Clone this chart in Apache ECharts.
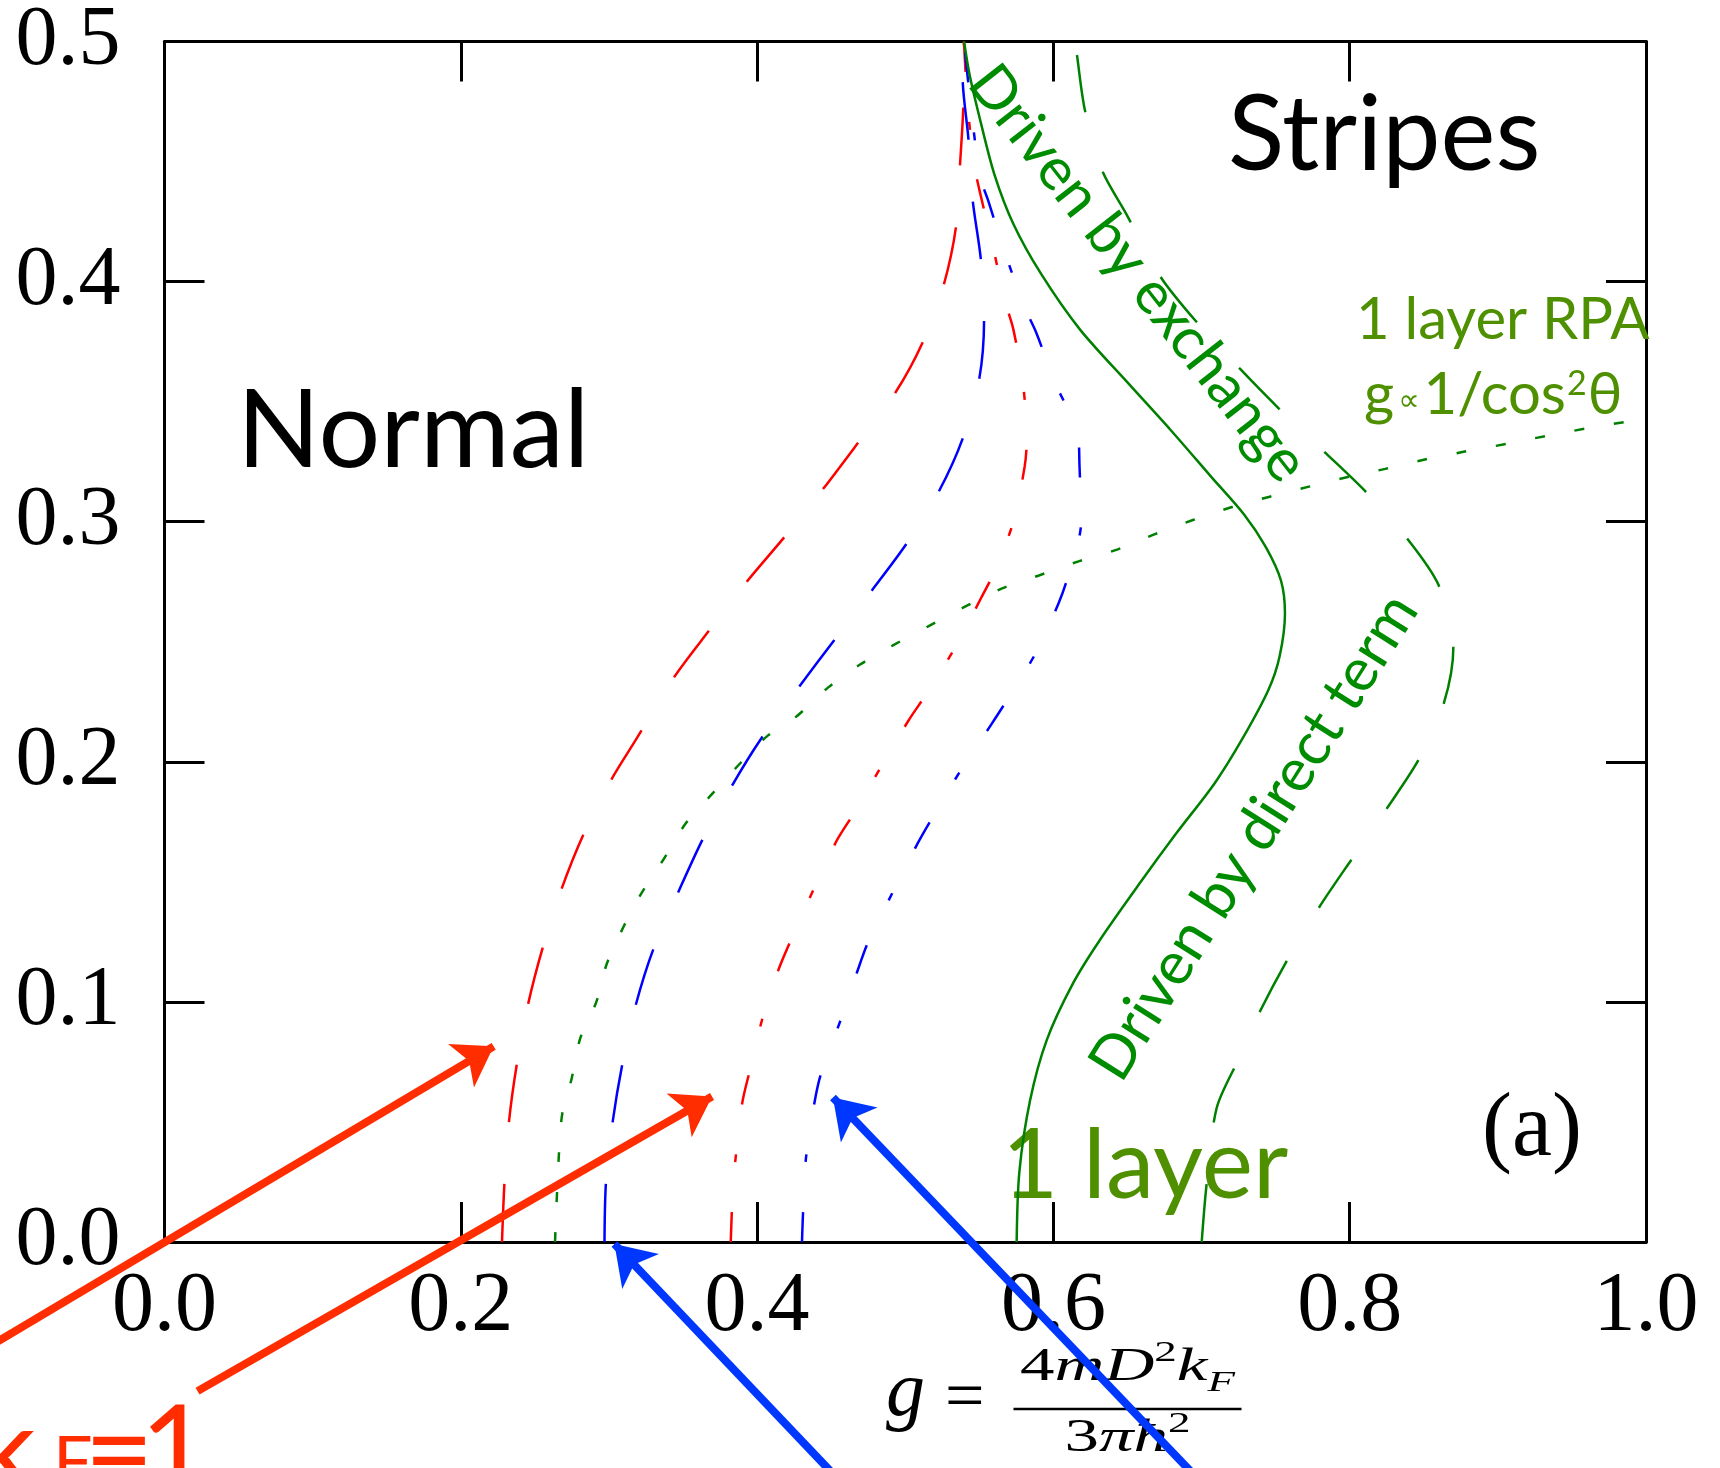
<!DOCTYPE html>
<html>
<head>
<meta charset="utf-8">
<script src="https://cdn.jsdelivr.net/npm/echarts@6/dist/echarts.min.js"></script>
<style>
html,body{margin:0;padding:0;background:#fff;}
#chart{width:1720px;height:1468px;}
</style>
</head>
<body>
<div id="chart"></div>
<script>
// ---------- data ----------
const xTickValues = [0, 0.2, 0.4, 0.6, 0.8, 1.0];
const yTickValues = [0, 0.1, 0.2, 0.3, 0.4, 0.5];

// red, long dashes
const redDash = [[0.2278,0],[0.2295,0.025],[0.2325,0.05],[0.2378,0.074],[0.2454,0.099],[0.2555,0.123],[0.268,0.147],[0.283,0.170],[0.302,0.193],[0.318,0.209],[0.3437,0.235],[0.368,0.255],[0.393,0.275],[0.419,0.294],[0.445,0.314],[0.4695,0.334],[0.4936,0.354],[0.512,0.375],[0.5257,0.398],[0.5343,0.423],[0.537,0.449],[0.5392,0.473],[0.5396,0.5]];
// red, dash-dot
const redDashDot = [[0.3822,0],[0.3835,0.02],[0.3855,0.035],[0.390,0.058],[0.3945,0.07],[0.404,0.094],[0.4148,0.114],[0.423,0.126],[0.439,0.148],[0.4536,0.167],[0.4647,0.178],[0.502,0.217],[0.514,0.228],[0.534,0.248],[0.551,0.268],[0.560,0.279],[0.573,0.300],[0.5806,0.323],[0.582,0.334],[0.5795,0.3575],[0.573,0.380],[0.5673,0.392],[0.5592,0.4145],[0.5506,0.4367],[0.5466,0.4486],[0.5424,0.4715],[0.5396,0.5]];
// blue, long dashes
const blueDash = [[0.297,0],[0.298,0.025],[0.3025,0.05],[0.309,0.074],[0.318,0.0985],[0.330,0.122],[0.347,0.146],[0.3635,0.168],[0.383,0.19],[0.402,0.209],[0.428,0.231],[0.4525,0.251],[0.477,0.271],[0.501,0.291],[0.523,0.313],[0.539,0.335],[0.55,0.3597],[0.5532,0.384],[0.551,0.4093],[0.5455,0.434],[0.5426,0.4597],[0.5388,0.4833],[0.5385,0.5]];
// blue, dash-dot
const blueDashDot = [[0.4303,0],[0.431,0.012],[0.433,0.035],[0.4388,0.0583],[0.4431,0.07],[0.4573,0.094],[0.4695,0.116],[0.475,0.125],[0.4918,0.146],[0.508,0.1656],[0.5176,0.176],[0.538,0.197],[0.558,0.2155],[0.5694,0.2264],[0.5887,0.246],[0.6035,0.266],[0.610,0.2775],[0.6187,0.300],[0.6176,0.3236],[0.6165,0.336],[0.6007,0.3585],[0.5883,0.3789],[0.5802,0.3898],[0.5665,0.4135],[0.556,0.4337],[0.55,0.445],[0.5396,0.5]];
// green, dotted (1 layer RPA)
const greenDot = [[0.2636,0],[0.266,0.034],[0.2685,0.0535],[0.2748,0.068],[0.2807,0.085],[0.2915,0.1],[0.2986,0.116],[0.3096,0.131],[0.3217,0.145],[0.337,0.1595],[0.352,0.1745],[0.3695,0.1865],[0.3888,0.1995],[0.4074,0.211],[0.4258,0.2185],[0.448,0.231],[0.4695,0.2405],[0.4917,0.2485],[0.5158,0.2565],[0.54,0.2645],[0.5654,0.2722],[0.5902,0.2776],[0.617,0.2835],[0.6435,0.2885],[0.6685,0.2948],[0.6942,0.3007],[0.72,0.306],[0.746,0.3104],[0.7725,0.3146],[0.798,0.3185],[0.824,0.322],[0.85,0.3258],[0.876,0.329],[0.9065,0.3325],[0.9325,0.3357],[0.9595,0.3388],[0.9855,0.3415],[1.0,0.343]];
// green, solid (1 layer)
const greenSolid = [[0.5752,0],[0.577,0.029],[0.5842,0.0588],[0.5955,0.0841],[0.6134,0.1079],[0.6314,0.1258],[0.6585,0.1496],[0.6832,0.1704],[0.709,0.1912],[0.7275,0.2095],[0.7451,0.2299],[0.7527,0.244],[0.7563,0.2618],[0.7536,0.2755],[0.7435,0.2893],[0.7287,0.303],[0.7064,0.3188],[0.6794,0.338],[0.650,0.358],[0.618,0.380],[0.5916,0.4033],[0.573,0.424],[0.5602,0.4446],[0.551,0.4662],[0.5435,0.4859],[0.5397,0.5]];
// green, long dashes
const greenDash = [[0.7001,0],[0.7035,0.0246],[0.7102,0.0558],[0.7237,0.0746],[0.7394,0.096],[0.7586,0.1183],[0.78,0.14],[0.802,0.16],[0.825,0.1805],[0.847,0.2014],[0.8636,0.2245],[0.870,0.248],[0.860,0.2736],[0.838,0.2936],[0.81,0.313],[0.782,0.3296],[0.7542,0.3459],[0.7262,0.3635],[0.6976,0.3825],[0.6722,0.4021],[0.6486,0.4288],[0.6328,0.4464],[0.6213,0.4713],[0.6157,0.4953],[0.6145,0.5]];

// annotation arrows (tail, tip) in data units
const redArrows = [[[-0.15,-0.0552],[0.2222,0.0815]], [[0.0223,-0.0621],[0.3696,0.0606]]];
const blueArrows = [[[0.4809,-0.1158],[0.3037,-0.0008]], [[0.7241,-0.1158],[0.4512,0.0602]]];

// ---------- chart ----------
const chart = echarts.init(document.getElementById('chart'), null, {renderer: 'canvas'});

const GREEN = '#008000';
const TXTGREEN = '#008c00';
const OLIVE = '#4e9000';
const ARROW_RED = '#ff2d00';
const ARROW_BLUE = '#0037ff';

const LONG = [58, 62];
const DASHDOT = [30, 50, 8, 50];
const DOT = [10, 30];

function curve(name, data, color, type) {
  return {
    type: 'line', name: name, data: data, xAxisIndex: 0, yAxisIndex: 0,
    showSymbol: false, symbol: 'none', smooth: 0.3, silent: true, z: 3,
    lineStyle: {color: color, width: 2.5, type: type, cap: 'butt'}
  };
}
function arrows(name, list, color) {
  return {
    type: 'lines', name: name, coordinateSystem: 'cartesian2d', xAxisIndex: 0, yAxisIndex: 0,
    clip: false, silent: true, z: 10, zlevel: 0,
    symbol: ['none', 'arrow'], symbolSize: [0, 38],
    lineStyle: {color: color, width: 8, opacity: 1, curveness: 0},
    data: list.map(c => ({coords: c}))
  };
}

const fmt = v => Number(v).toFixed(1);
function axisCommon(labelShow, margin) {
  return {
    axisLine: {show: true, onZero: false, lineStyle: {color: '#000', width: 3}},
    axisTick: {show: true, inside: true, length: 40, lineStyle: {color: '#000', width: 3}},
    minorTick: {show: false},
    splitLine: {show: false},
    axisLabel: {show: labelShow, margin: margin, color: '#000', fontFamily: 'Liberation Serif',
      fontSize: 84, formatter: fmt, showMinLabel: true, showMaxLabel: true}
  };
}

function txt(x, y, text, size, color, family, extra) {
  const el = {
    type: 'text', x: x, y: y, z: 1, silent: true,
    style: Object.assign({
      text: text, fontSize: size, fontFamily: family || 'Lato', fill: color,
      align: 'left', verticalAlign: 'middle', textAlign: 'left', textVerticalAlign: 'middle'
    }, extra || {})
  };
  return el;
}

const serif = 'Liberation Serif';
const graphics = [
  txt(237, 432, 'Normal', 109, '#000'),
  txt(1228, 136, 'Stripes', 104, '#000'),
  txt(1356, 320, '1 layer RPA', 58, OLIVE),
  {
    type: 'text', x: 1364, y: 395, z: 1, silent: true,
    style: {
      text: '{m|g}{p|∝}{m|1/cos}{s|2}{m|θ}', fill: OLIVE, align: 'left', verticalAlign: 'middle',
      textAlign: 'left', textVerticalAlign: 'middle',
      rich: {
        m: {fontSize: 58, fontFamily: 'Lato', fill: OLIVE, lineHeight: 64},
        p: {fontSize: 30, fontFamily: 'DejaVu Sans', fill: OLIVE, lineHeight: 64, padding: [14, 4, 0, 4]},
        s: {fontSize: 34, fontFamily: 'Lato', fill: OLIVE, lineHeight: 34, verticalAlign: 'top', padding: [4, 1, 0, 1]}
      }
    }
  },
  txt(1002, 1167, '1 layer', 97, OLIVE),
  txt(1482, 1131, '(a)', 90, '#000', serif),
  {
    type: 'text', x: 1138, y: 273.5, rotation: -0.9076, z: 1, silent: true,
    style: {text: 'Driven by exchange', fontSize: 59, fontFamily: 'Lato', fill: TXTGREEN,
      align: 'center', verticalAlign: 'middle', textAlign: 'center', textVerticalAlign: 'middle'}
  },
  {
    type: 'text', x: 1254, y: 837, rotation: 1.0088, z: 1, silent: true,
    style: {text: 'Driven by direct term', fontSize: 60, fontFamily: 'Lato', fill: TXTGREEN,
      align: 'center', verticalAlign: 'middle', textAlign: 'center', textVerticalAlign: 'middle'}
  },
  // k_F = 1 (red, cut by the lower edge)
  txt(36, 1452, 'k', 120, ARROW_RED, 'Lato', {align: 'right', textAlign: 'right'}),
  txt(53, 1463, 'F', 70, ARROW_RED, 'Lato'),
  txt(119, 1452, '=', 120, ARROW_RED, 'Lato', {align: 'center', textAlign: 'center'}),
  txt(175, 1452, '1', 120, ARROW_RED, 'Lato', {align: 'center', textAlign: 'center'}),
  // formula g = 4mD^2k_F / 3 pi hbar^2
  txt(886, 1394, 'g', 78, '#000', serif, {fontStyle: 'italic'}),
  txt(945, 1401, '=', 70, '#000', serif),
  {
    type: 'group', x: 1127.5, y: 1409, scaleX: 1.5, z: 1, silent: true,
    children: [
      {type: 'line', shape: {x1: -76, y1: 0, x2: 76, y2: 0}, style: {stroke: '#000', lineWidth: 2.5}, z: 1},
      {
        type: 'text', x: 0, y: -41, z: 1,
        style: {
          text: '{n|4}{i|mD}{s|2}{i|k}{b|F}', align: 'center', verticalAlign: 'middle',
          textAlign: 'center', textVerticalAlign: 'middle', fill: '#000',
          rich: {
            n: {fontSize: 46, fontFamily: serif, lineHeight: 60, fill: '#000'},
            i: {fontSize: 46, fontFamily: serif, fontStyle: 'italic', lineHeight: 60, fill: '#000'},
            s: {fontSize: 30, fontFamily: serif, lineHeight: 30, verticalAlign: 'top', fill: '#000'},
            b: {fontSize: 30, fontFamily: serif, fontStyle: 'italic', lineHeight: 30, verticalAlign: 'bottom', fill: '#000'}
          }
        }
      },
      {
        type: 'text', x: 0, y: 30, z: 1,
        style: {
          text: '{n|3}{i|πħ}{s|2}', align: 'center', verticalAlign: 'middle',
          textAlign: 'center', textVerticalAlign: 'middle', fill: '#000',
          rich: {
            n: {fontSize: 46, fontFamily: serif, lineHeight: 60, fill: '#000'},
            i: {fontSize: 46, fontFamily: serif, fontStyle: 'italic', lineHeight: 60, fill: '#000'},
            s: {fontSize: 30, fontFamily: serif, lineHeight: 30, verticalAlign: 'top', fill: '#000'}
          }
        }
      }
    ]
  }
];

const option = {
  animation: false,
  backgroundColor: '#fff',
  grid: {left: 164.5, top: 41.5, width: 1481.5, height: 1200.5, containLabel: false, outerBoundsMode: 'none'},
  xAxis: [
    Object.assign({type: 'value', min: 0, max: 1, interval: 0.2, position: 'bottom'}, axisCommon(true, 24)),
    Object.assign({type: 'value', min: 0, max: 1, interval: 0.2, position: 'top'}, axisCommon(false, 24))
  ],
  yAxis: [
    Object.assign({type: 'value', min: 0, max: 0.5, interval: 0.1, position: 'left'}, axisCommon(true, 44)),
    Object.assign({type: 'value', min: 0, max: 0.5, interval: 0.1, position: 'right'}, axisCommon(false, 44))
  ],
  graphic: graphics,
  series: [
    curve('red long dash', redDash, '#ff0000', LONG),
    curve('red dash-dot', redDashDot, '#ff0000', DASHDOT),
    curve('blue long dash', blueDash, '#0000ff', LONG),
    curve('blue dash-dot', blueDashDot, '#0000ff', DASHDOT),
    curve('1 layer RPA', greenDot, GREEN, DOT),
    curve('1 layer', greenSolid, GREEN, 'solid'),
    curve('green long dash', greenDash, GREEN, LONG),
    arrows('red arrows', redArrows, ARROW_RED),
    arrows('blue arrows', blueArrows, ARROW_BLUE)
  ]
};
chart.setOption(option);
</script>
</body>
</html>
